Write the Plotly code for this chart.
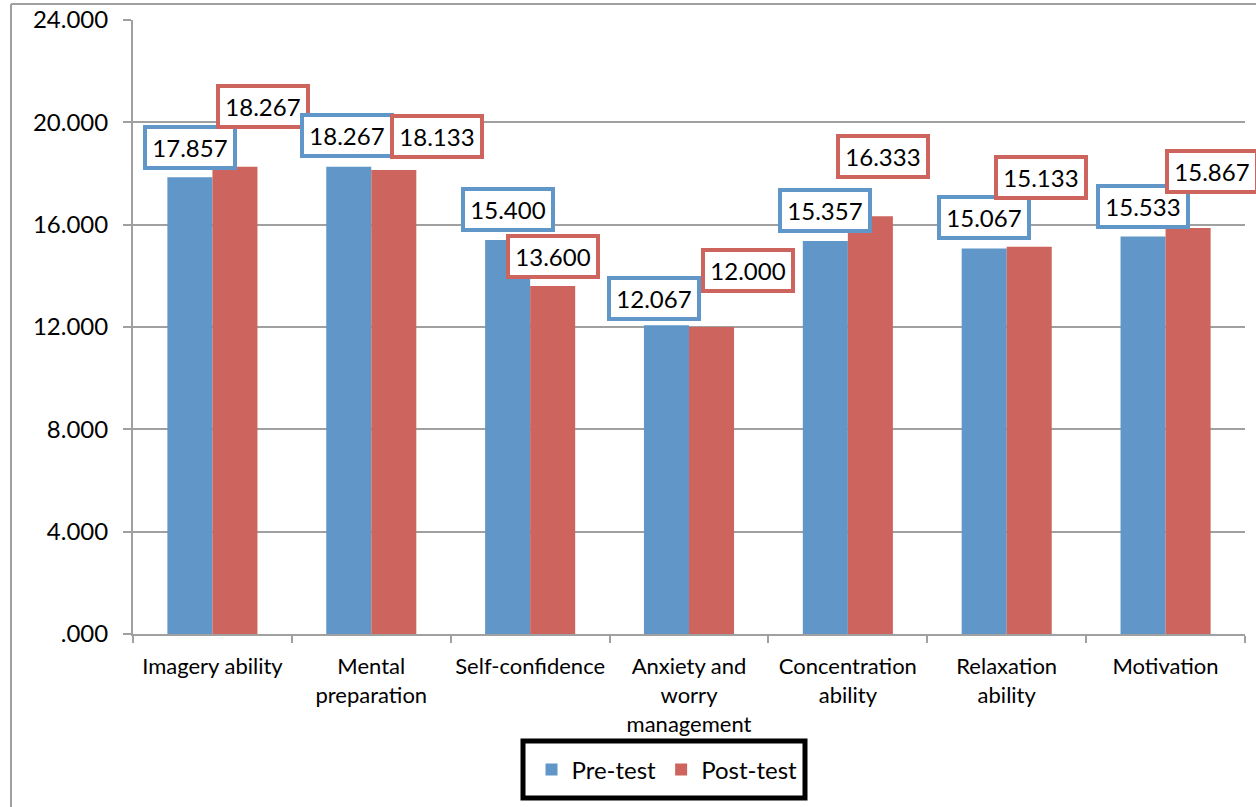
import plotly.graph_objects as go

categories = ["Imagery ability", "Mental<br>preparation", "Self-confidence",
              "Anxiety and<br>worry<br>management", "Concentration<br>ability",
              "Relaxation<br>ability", "Motivation"]
pre_test = [17.857, 18.267, 15.400, 12.067, 15.357, 15.067, 15.533]
post_test = [18.267, 18.133, 13.600, 12.000, 16.333, 15.133, 15.867]
y_tick_vals = [0, 4, 8, 12, 16, 20, 24]
y_tick_text = [".000", "4.000", "8.000", "12.000", "16.000", "20.000", "24.000"]

# label box offsets (px) relative to bar top centre (manual placement in original)
pre_dx = [0, -2, 0, -12, 0, 0, 0]
pre_dy = [30, 31, 31, 27, 31, 31, 30]
post_dx = [28, 43, 0, 36, 13, 12, 24]
post_dy = [60, 34, 30, 57, 60, 69, 57]

BLUE = "#6096C8"
RED = "#CD645E"
FONT = "Lato, Open Sans, sans-serif"

W, H = 1256, 807
ML, MR, MT, MB = 133, 11, 20, 173
plot_w = W - ML - MR
plot_h = H - MT - MB
bargap = 0.433
cat_w = plot_w / len(categories)
bar_w = cat_w * (1 - bargap) / 2


def px_x(px):
    return (px - ML) / plot_w


def px_y(py):
    return (H - MB - py) / plot_h


fig = go.Figure()
fig.add_trace(go.Bar(name="Pre-test", x=categories, y=pre_test, marker_color=BLUE,
                     marker_line_width=0))
fig.add_trace(go.Bar(name="Post-test", x=categories, y=post_test, marker_color=RED,
                     marker_line_width=0))

for i, c in enumerate(categories):
    for vals, dxs, dys, col, sign in ((pre_test, pre_dx, pre_dy, BLUE, -1),
                                      (post_test, post_dx, post_dy, RED, 1)):
        fig.add_annotation(x=c, y=vals[i], xref="x", yref="y",
                           text=f"{vals[i]:.3f}", showarrow=False,
                           xshift=sign * bar_w / 2 + dxs[i], yshift=dys[i],
                           xanchor="center", yanchor="middle",
                           width=76, height=27, align="center", valign="middle",
                           font=dict(family=FONT, size=24, color="black"),
                           bgcolor="white", bordercolor=col, borderwidth=4,
                           borderpad=5)

# outer chart border (left and top edges visible)
fig.add_shape(type="line", xref="paper", yref="paper",
              x0=px_x(11), x1=px_x(11), y0=px_y(4), y1=px_y(H + 10),
              line=dict(color="#A0A0A0", width=2))
fig.add_shape(type="line", xref="paper", yref="paper",
              x0=px_x(11), x1=px_x(W + 10), y0=px_y(4), y1=px_y(4),
              line=dict(color="#A0A0A0", width=2))
# legend frame
fig.add_shape(type="rect", xref="paper", yref="paper",
              x0=px_x(523), x1=px_x(805), y0=px_y(741), y1=px_y(798),
              line=dict(color="black", width=5), fillcolor="white", layer="below")

fig.update_layout(
    width=W, height=H,
    margin=dict(l=ML, r=MR, t=MT, b=MB, autoexpand=False),
    paper_bgcolor="white", plot_bgcolor="white",
    barmode="group", bargap=bargap, bargroupgap=0,
    font=dict(family=FONT, size=20, color="black"),
    showlegend=True,
    legend=dict(orientation="h", x=px_x(667), xanchor="center", y=px_y(770),
                yanchor="middle", borderwidth=0, bgcolor="rgba(0,0,0,0)",
                font=dict(family=FONT, size=24, color="black"),
                itemwidth=30),
    xaxis=dict(range=[-0.5, len(categories) - 0.5], autorange=False,
               showline=True, linecolor="#A0A0A0", linewidth=2, tickangle=0,
               ticks="outside", tickson="boundaries", ticklen=7, tickcolor="#A0A0A0",
               tickwidth=2, tickfont=dict(family=FONT, size=22, color="black"),
               ticklabelstandoff=12, automargin=False),
    yaxis=dict(range=[0, 24], tickvals=y_tick_vals, ticktext=y_tick_text,
               showline=True, linecolor="#A0A0A0", linewidth=2,
               showgrid=True, gridcolor="#A0A0A0", gridwidth=1.5,
               ticks="outside", ticklen=8, tickcolor="#A0A0A0", tickwidth=2,
               tickfont=dict(family=FONT, size=24, color="black"),
               ticklabelstandoff=10, zeroline=False, automargin=False),
)

fig.write_html("out.html")
